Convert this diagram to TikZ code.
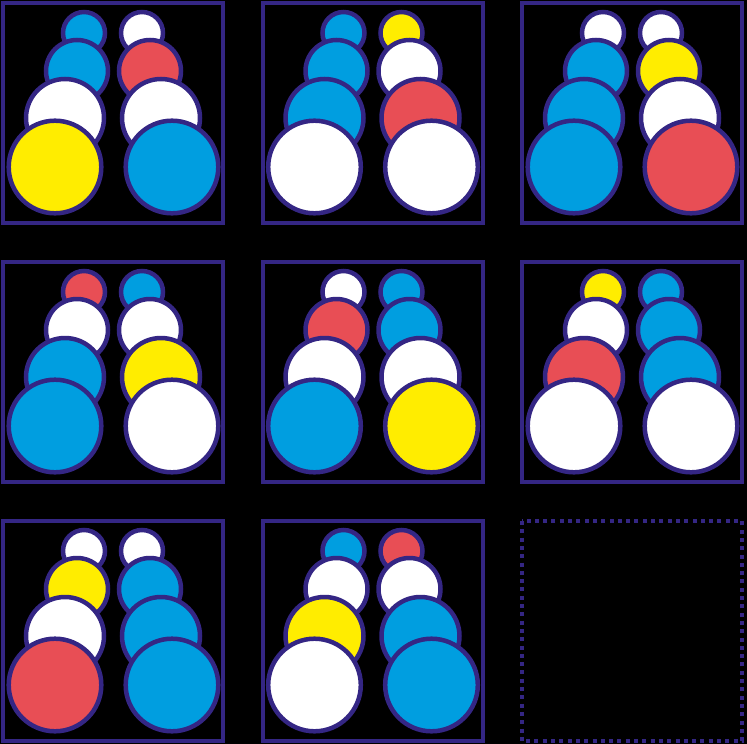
\documentclass[tikz,border=0pt]{standalone}
\usepackage{tikz}
\definecolor{rim}{RGB}{52,38,132}
\definecolor{sky}{RGB}{0,158,224}
\definecolor{rose}{RGB}{232,78,85}
\definecolor{lemon}{RGB}{255,237,0}
% one panel: origin, then left stack and right stack (top to bottom)
\newcommand{\panel}[9]{%
\begin{scope}[shift={#1}]
\draw [frame] (0,0) rectangle (220,220);
\draw [ball,fill=#2] (81,30) circle (21pt);
\draw [ball,fill=#6] (139,30) circle (21pt);
\draw [ball,fill=#3] (74,68) circle (31pt);
\draw [ball,fill=#7] (147,68) circle (31pt);
\draw [ball,fill=#4] (62,115) circle (39pt);
\draw [ball,fill=#8] (158,115) circle (39pt);
\draw [ball,fill=#5] (52,164) circle (46.3pt);
\draw [ball,fill=#9] (169,164) circle (46.3pt);
\end{scope}}

\begin{document}
\begin{tikzpicture}[x=1pt,y=-1pt,
  frame/.style={draw=rim,line width=4pt},
  ball/.style={draw=rim,line width=4.5pt},
  blank/.style={draw=rim,line width=4pt,dash pattern=on 4pt off 4.3pt}]
\useasboundingbox (0,0) rectangle (747,744);
\fill [black] (0,0) rectangle (747,744);
%
\panel{(3,3)}{sky}{sky}{white}{lemon}{white}{rose}{white}{sky}
\panel{(262.5,3)}{sky}{sky}{sky}{white}{lemon}{white}{rose}{white}
\panel{(522,3)}{white}{sky}{sky}{sky}{white}{lemon}{white}{rose}
%
\panel{(3,262)}{rose}{white}{sky}{sky}{sky}{white}{lemon}{white}
\panel{(262.5,262)}{white}{rose}{white}{sky}{sky}{sky}{white}{lemon}
\panel{(522,262)}{lemon}{white}{rose}{white}{sky}{sky}{sky}{white}
%
\panel{(3,521)}{white}{lemon}{white}{rose}{white}{sky}{sky}{sky}
\panel{(262.5,521)}{sky}{white}{lemon}{white}{rose}{white}{sky}{sky}
\draw [blank] (522,521) rectangle (742,741);
\end{tikzpicture}
\end{document}
